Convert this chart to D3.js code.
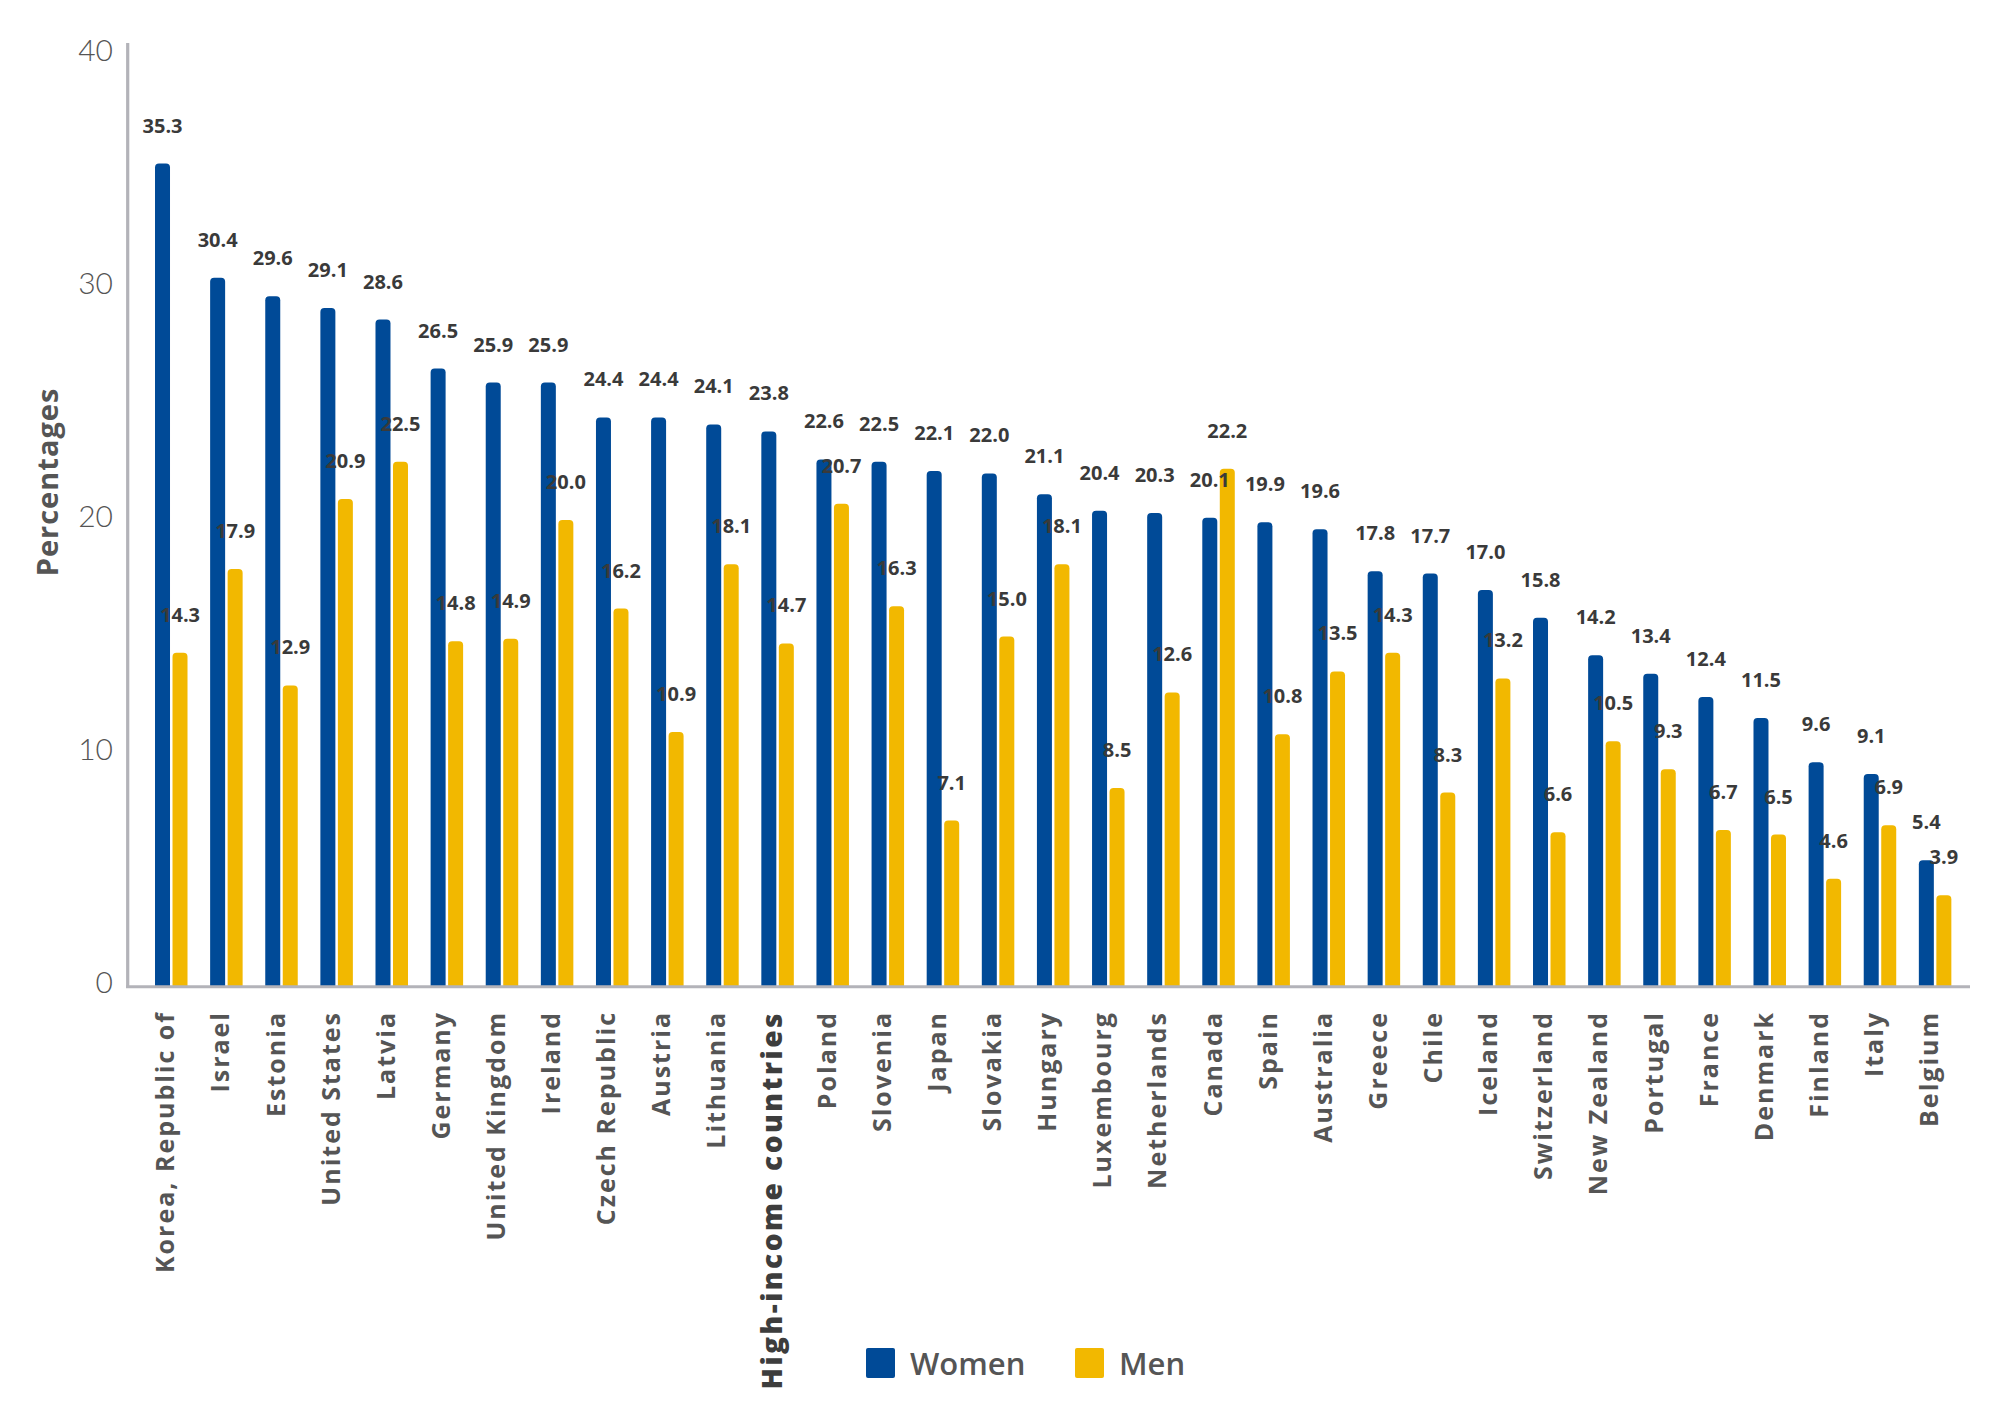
<!DOCTYPE html>
<html>
<head>
<meta charset="utf-8">
<script src="https://cdn.jsdelivr.net/npm/d3@7"></script>
<style>
  html, body { margin: 0; padding: 0; background: #ffffff; }
  svg { display: block; }
</style>
</head>
<body>
<svg id="chart" width="2000" height="1416"></svg>
<script>
const categories = ["Korea, Republic of","Israel","Estonia","United States","Latvia","Germany","United Kingdom","Ireland","Czech Republic","Austria","Lithuania","High-income countries","Poland","Slovenia","Japan","Slovakia","Hungary","Luxembourg","Netherlands","Canada","Spain","Australia","Greece","Chile","Iceland","Switzerland","New Zealand","Portugal","France","Denmark","Finland","Italy","Belgium"];
const women = [35.3,30.4,29.6,29.1,28.6,26.5,25.9,25.9,24.4,24.4,24.1,23.8,22.6,22.5,22.1,22.0,21.1,20.4,20.3,20.1,19.9,19.6,17.8,17.7,17.0,15.8,14.2,13.4,12.4,11.5,9.6,9.1,5.4];
const men = [14.3,17.9,12.9,20.9,22.5,14.8,14.9,20.0,16.2,10.9,18.1,14.7,20.7,16.3,7.1,15.0,18.1,8.5,12.6,22.2,10.8,13.5,14.3,8.3,13.2,6.6,10.5,9.3,6.7,6.5,4.6,6.9,3.9];
const seriesNames = ["Women","Men"];
const seriesColors = ["#004a97","#f2b800"];
const yTicks = [0,10,20,30,40];
const yTitle = "Percentages";
const highlightCategory = "High-income countries";

const svg = d3.select("#chart");
const x = d3.scaleBand().domain(categories).range([143.7, 143.7 + 33*55.12]).padding(0);
const xs = d3.scaleBand().domain(seriesNames).range([-16.25, 16.25]).paddingInner(0.143);
const y = d3.scaleLinear().domain([0,40]).range([986, 54]);

const data = categories.map((c,i)=>({cat:c, vals:[women[i], men[i]]}));

function barPath(x0, w, yTop, yBot, r) {
  r = Math.min(r, w/2, (yBot-yTop));
  return `M${x0},${yBot}V${yTop+r}Q${x0},${yTop} ${x0+r},${yTop}H${x0+w-r}Q${x0+w},${yTop} ${x0+w},${yTop+r}V${yBot}Z`;
}

// bars
const groups = svg.append("g").selectAll("g").data(data).join("g")
  .attr("transform", d => `translate(${x(d.cat) + x.bandwidth()/2},0)`);
groups.selectAll("path").data(d => d.vals.map((v,j)=>({v, s:seriesNames[j], j}))).join("path")
  .attr("d", d => barPath(xs(d.s), xs.bandwidth(), y(d.v), y(0), 4))
  .attr("fill", d => seriesColors[d.j]);

// axes lines
svg.append("line").attr("x1",127.7).attr("x2",127.7).attr("y1",43).attr("y2",988)
  .attr("stroke","#b3b3b9").attr("stroke-width",3.2);
svg.append("line").attr("x1",126).attr("x2",1970).attr("y1",y(0)+0.8).attr("y2",y(0)+0.8)
  .attr("stroke","#b3b3b9").attr("stroke-width",3);

// y tick labels
svg.append("g").selectAll("text").data(yTicks).join("text")
  .attr("x", 113).attr("y", d => y(d) - 4).attr("dy","0.36em")
  .attr("text-anchor","end")
  .style("font-family","Lato, 'Open Sans', sans-serif").style("font-weight",300)
  .style("font-size","30px").attr("fill","#555555")
  .text(d => d);

// y title
svg.append("text")
  .attr("transform","translate(48,482) rotate(-90)")
  .attr("text-anchor","middle").attr("dy","0.35em")
  .style("font-family","'Open Sans', Lato, sans-serif").style("font-weight",700)
  .style("font-size","29px").style("letter-spacing","1px").attr("fill","#555555")
  .text(yTitle);

// value labels
groups.selectAll("text.val").data(d => d.vals.map((v,j)=>({v, s:seriesNames[j], j}))).join("text")
  .attr("class","val")
  .attr("x", d => xs(d.s) + xs.bandwidth()/2)
  .attr("y", d => y(d.v) - 31)
  .attr("text-anchor","middle")
  .style("font-family","'Open Sans', Lato, sans-serif").style("font-weight",700)
  .style("font-size","20px").attr("fill","#3a3a3a")
  .text(d => d.v.toFixed(1));

// x labels
svg.append("g").selectAll("text").data(categories).join("text")
  .attr("transform", d => `translate(${x(d) + x.bandwidth()/2 + (d === highlightCategory ? 4 : 3)},1011) rotate(-90)`)
  .attr("text-anchor","end")
  .style("font-family","'Open Sans', Lato, sans-serif")
  .style("font-weight", d => d === highlightCategory ? 800 : 700)
  .style("font-size", d => d === highlightCategory ? "28px" : "25px")
  .style("letter-spacing", d => d === highlightCategory ? "2.5px" : "2px")
  .attr("fill", d => d === highlightCategory ? "#3d3d3d" : "#555555")
  .text(d => d);

// legend
const legend = svg.append("g");
const legendX = [866, 1075];
const legendTextX = [910, 1119];
seriesNames.forEach((s,i)=>{
  legend.append("rect").attr("x",legendX[i]).attr("y",1348).attr("width",29).attr("height",30)
    .attr("rx",2).attr("fill",seriesColors[i]);
  legend.append("text").attr("x",legendTextX[i]).attr("y",1375)
    .style("font-family","'Open Sans', Lato, sans-serif").style("font-weight",600)
    .style("font-size","31px").attr("fill","#555555").text(s);
});
</script>
</body>
</html>
